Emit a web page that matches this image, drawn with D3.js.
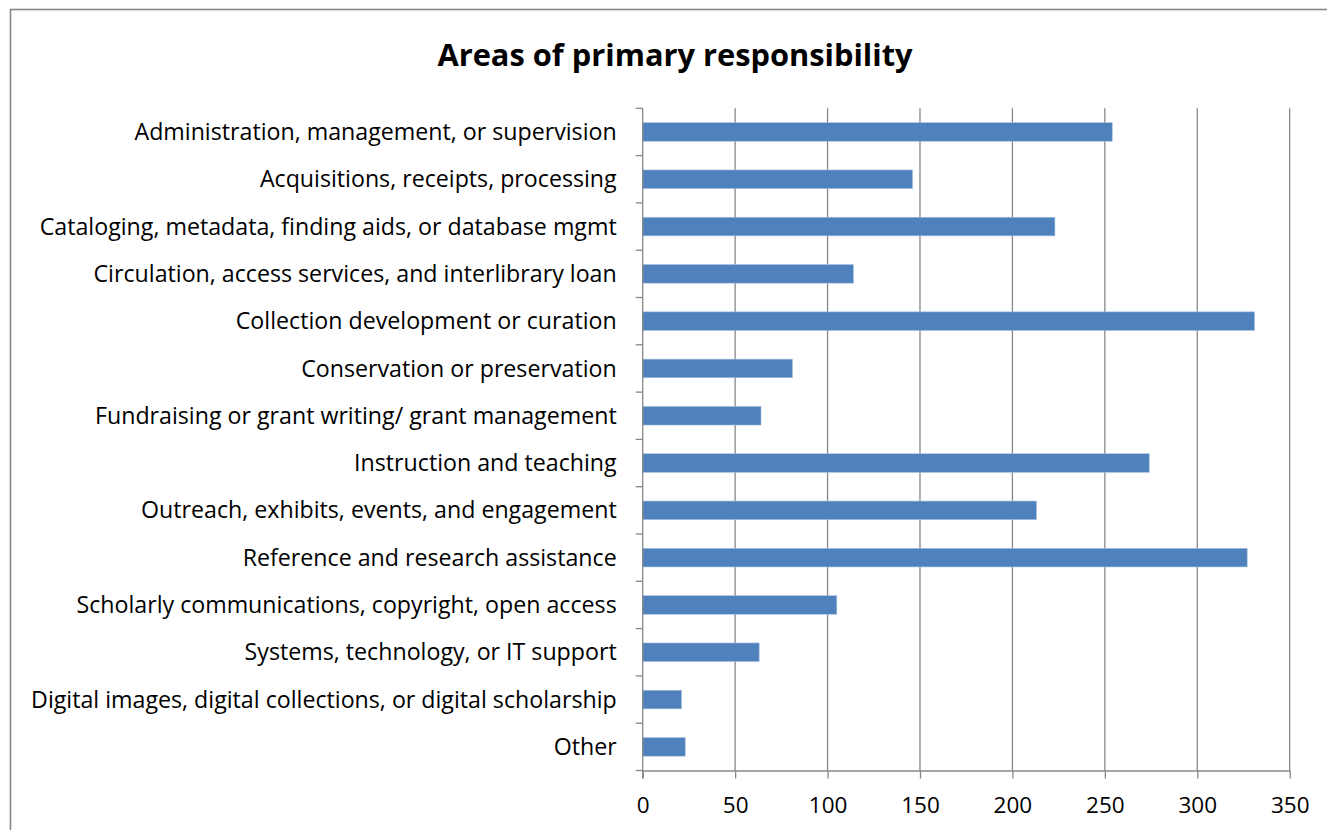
<!DOCTYPE html>
<html>
<head>
<meta charset="utf-8">
<script src="https://cdn.jsdelivr.net/npm/d3@7"></script>
<style>
  html, body { margin: 0; padding: 0; background: #fff; }
  svg { display: block; }
  text { font-family: "Open Sans", Lato, sans-serif; fill: #000; }
</style>
</head>
<body>
<svg id="chart" width="1327" height="830"></svg>
<script>
// Survey responses: areas of primary responsibility
const categories = [
  "Administration, management, or supervision",
  "Acquisitions, receipts, processing",
  "Cataloging, metadata, finding aids, or database mgmt",
  "Circulation, access services, and interlibrary loan",
  "Collection development or curation",
  "Conservation or preservation",
  "Fundraising or grant writing/ grant management",
  "Instruction and teaching",
  "Outreach, exhibits, events, and engagement",
  "Reference and research assistance",
  "Scholarly communications, copyright, open access",
  "Systems, technology, or IT support",
  "Digital images, digital collections, or digital scholarship",
  "Other"
];
const counts = [254, 146, 223, 114, 331, 81, 64, 274, 213, 327, 105, 63, 21, 23];
const xTicks = [0, 50, 100, 150, 200, 250, 300, 350];
const titleText = "Areas of primary responsibility";

const svg = d3.select("#chart");
const W = 1327, H = 830;
const plot = { left: 642.7, right: 1289.7, top: 108.3, bottom: 770.5 };
const gridColor = "#878787";
const labelFont = "23.2px";
const tickFont = "22.5px";

// Outer chart frame
svg.append("rect")
  .attr("x", 10.5).attr("y", 9.5)
  .attr("width", W + 40).attr("height", H + 40)
  .attr("fill", "none").attr("stroke", gridColor).attr("stroke-width", 1.6);

const x = d3.scaleLinear().domain([0, 350]).range([plot.left, plot.right]);
const yBand = d3.scaleBand().domain(categories).range([plot.top, plot.bottom]);
const barH = 18.6;

// Vertical gridlines
svg.append("g")
  .selectAll("line")
  .data(xTicks.filter(d => d > 0))
  .join("line")
  .attr("x1", d => x(d)).attr("x2", d => x(d))
  .attr("y1", plot.top).attr("y2", plot.bottom)
  .attr("stroke", gridColor).attr("stroke-width", 1.3);

// Bars
svg.append("g")
  .selectAll("rect")
  .data(categories)
  .join("rect")
  .attr("x", x(0))
  .attr("y", d => yBand(d) + (yBand.bandwidth() - barH) / 2)
  .attr("width", (d, i) => x(counts[i]) - x(0))
  .attr("height", barH)
  .attr("fill", "#4F81BD")
  .attr("stroke", "#A7C0DE")
  .attr("stroke-width", 0.6);

// X axis
const xAxis = d3.axisBottom(x).tickValues(xTicks).tickSize(8).tickPadding(19).tickSizeOuter(0);
const gx = svg.append("g").attr("transform", `translate(0,${plot.bottom})`).call(xAxis);
gx.select(".domain").attr("stroke", gridColor).attr("stroke-width", 1.3);
gx.selectAll(".tick line").attr("stroke", gridColor).attr("stroke-width", 1.3);
gx.selectAll(".tick text")
  .style("font-family", "'Open Sans', Lato, sans-serif")
  .style("font-size", tickFont).attr("fill", "#000");

// Y axis: ticks at band boundaries, labels centred on bands
const boundaries = d3.range(categories.length + 1).map(i => plot.top + i * yBand.step());
const gy = svg.append("g");
gy.append("line")
  .attr("x1", plot.left).attr("x2", plot.left)
  .attr("y1", plot.top).attr("y2", plot.bottom + 8)
  .attr("stroke", gridColor).attr("stroke-width", 1.3);
gy.selectAll("line.tick")
  .data(boundaries)
  .join("line")
  .attr("class", "tick")
  .attr("x1", plot.left - 7).attr("x2", plot.left)
  .attr("y1", d => d).attr("y2", d => d)
  .attr("stroke", gridColor).attr("stroke-width", 1.3);
gy.selectAll("text")
  .data(categories)
  .join("text")
  .attr("x", plot.left - 26)
  .attr("y", d => yBand(d) + yBand.bandwidth() / 2)
  .attr("dy", "0.35em")
  .attr("text-anchor", "end")
  .style("font-size", labelFont)
  .text(d => d);

// Title
svg.append("text")
  .attr("x", 675)
  .attr("y", 66)
  .attr("text-anchor", "middle")
  .style("font-size", "30.8px")
  .style("font-weight", "bold")
  .text(titleText);
</script>
</body>
</html>
